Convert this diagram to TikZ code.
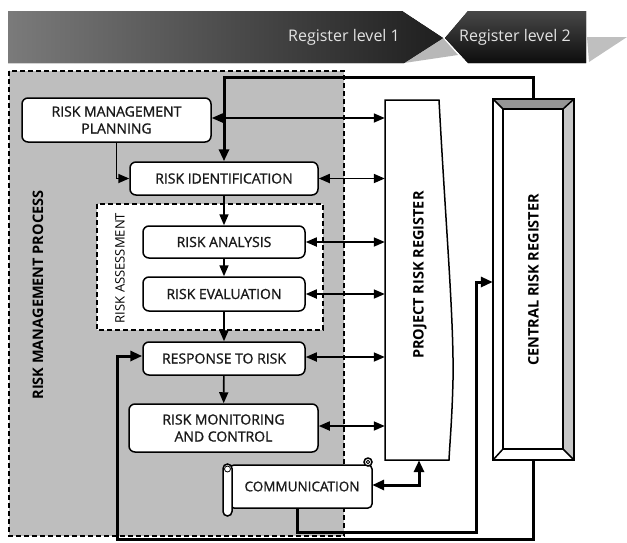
\documentclass[tikz,border=0pt]{standalone}
\usepackage{fontspec}
\setmainfont{Open Sans}
\newfontfamily\semifont[FakeBold=1.1]{Open Sans}
\usetikzlibrary{arrows.meta,calc}

\definecolor{procgray}{HTML}{BEBEBE}
\definecolor{bevtop}{HTML}{959595}
\definecolor{bevside}{HTML}{C6C6C6}
\definecolor{bannertxt}{HTML}{E2E2E2}

\begin{document}
\begin{tikzpicture}[x=1pt,y=-1pt,
  box/.style={draw, line width=1.5pt, rounded corners=6pt, fill=white, inner sep=0pt,
    align=center, text=black!90, font=\semifont\fontsize{14}{17}\selectfont},
  flow/.style={line width=1.7pt, -{Triangle[length=11pt,width=9pt]}},
  link/.style={line width=1.7pt, {Triangle[length=11pt,width=9pt]}-{Triangle[length=11pt,width=9pt]}},
  heavy/.style={line width=3pt, -{Triangle[length=12pt,width=10pt]}},
  heavylink/.style={line width=3pt, {Triangle[length=12pt,width=10pt]}-{Triangle[length=12pt,width=10pt]}},
  outline/.style={line width=1.5pt},
  dashbox/.style={line width=1.3pt, dash pattern=on 5pt off 3pt},
  vlabel/.style={rotate=90, font=\bfseries\fontsize{14.5}{16}\selectfont},
  bannerlabel/.style={text=bannertxt, font=\fontsize{16}{19}\selectfont}
]
\useasboundingbox (0,0) rectangle (627,542);

% --- register level banners ---
\fill[black!28] (404,63) -- (443,38) -- (458,55) -- cycle;
\fill[left color=black!52, right color=black!88] (8,11) -- (402,11) -- (443,38) -- (404,63) -- (8,63) -- cycle;
\fill[top color=black!72, bottom color=black!95] (468,11) -- (586,11) -- (586,63) -- (468,63) -- (445,38) -- cycle;
\fill[black!25] (587,37) -- (627,37) -- (589,62) -- cycle;
\node[bannerlabel] (lev1) at (344,37) {Register level 1};
\node[bannerlabel] (lev2) at (515,37) {Register level 2};

% --- risk management process area ---
\fill[procgray] (9,71) rectangle (344,536);
\draw[dashbox] (9,71) rectangle (344,536);
\node[vlabel] (rmproc) at (38,295) {RISK MANAGEMENT PROCESS};

% risk assessment group
\draw[dashbox, fill=white] (97,204) rectangle (323,330);
\node[rotate=90, font=\fontsize{13}{15}\selectfont] (rassess) at (120,268) {RISK ASSESSMENT};

% --- process steps ---
\node[box, minimum width=189pt, minimum height=44pt] (rmp) at (116.5,120) {RISK MANAGEMENT\\PLANNING};
\node[box, minimum width=188pt, minimum height=33pt] (ri) at (224,178.5) {RISK IDENTIFICATION};
\node[box, minimum width=162pt, minimum height=32pt] (ra) at (224,242) {RISK ANALYSIS};
\node[box, minimum width=162pt, minimum height=34pt] (re) at (224,294) {RISK EVALUATION};
\node[box, minimum width=162pt, minimum height=33pt] (rr) at (224,358.5) {RESPONSE TO RISK};
\node[box, minimum width=189pt, minimum height=48pt] (rmc) at (223.5,428) {RISK MONITORING\\AND CONTROL};

% --- communication scroll ---
\draw[outline, fill=white, rounded corners=4pt] (230,465) -- (372,465) -- (372,508) -- (230,508) -- cycle;
\draw[outline, fill=white] (368,462) circle (4pt);
\draw[line width=0.8pt] (368,462) circle (1.8pt);
\draw[outline, fill=white, rounded corners=4.5pt] (223,464) rectangle (232,516);
\draw[line width=0.8pt] (227.5,469) circle (3pt);
\node[font=\semifont\fontsize{13.5}{15}\selectfont, text=black!90, minimum width=140pt, minimum height=43pt, inner sep=0pt] (comm) at (302,486.5) {COMMUNICATION};

% --- project risk register ---
\draw[outline, fill=white] (385,100) -- (439,100)
  .. controls (446,230) and (454,320) .. (453,380)
  .. controls (452,420) and (450,440) .. (449,460) -- (385,460) -- cycle;
\node[minimum width=68pt, minimum height=360pt, inner sep=0pt] (preg) at (419,280) {};
\node[vlabel] (preglabel) at (420,275) {PROJECT RISK REGISTER};

% --- central risk register (bevelled frame) ---
\fill[white] (493,99) rectangle (574,460);
\fill[bevtop] (493,99) -- (574,99) -- (563,109) -- (503,109) -- cycle;
\fill[bevside] (574,99) -- (574,460) -- (563,449) -- (563,109) -- cycle;
\draw[outline] (493,99) rectangle (574,460);
\draw[outline] (503,109) rectangle (563,449);
\draw[outline] (493,99) -- (503,109) (574,99) -- (563,109)
  (493,460) -- (503,449) (574,460) -- (563,449);
\node[minimum width=81pt, minimum height=361pt, inner sep=0pt] (creg) at (533.5,279.5) {};
\node[vlabel] (creglabel) at (533.5,280) {CENTRAL RISK REGISTER};

% --- process flow ---
\draw[flow] (rmp.south) |- (ri.west);
\draw[flow] (ri) -- (ra);
\draw[flow] (ra) -- (re);
\draw[flow] (re) -- (rr);
\draw[flow] (rr) -- (rmc);

% --- exchange with the project register ---
\draw[link] (rmp.east |- 0,118) -- (preg.west |- 0,118);
\draw[link] (ri.east) -- (ri.east -| preg.west);
\draw[link] (ra.east) -- (ra.east -| preg.west);
\draw[link] (re.east) -- (re.east -| preg.west);
\draw[link] (rr.east |- 0,357) -- (preg.west |- 0,357);
\draw[link] (rmc.east |- 0,426) -- (preg.west |- 0,426);
\draw[heavylink] (comm.east |- 0,485) -| (preg.south);

% --- links with the central register ---
\draw[heavy] (creg.north) -- ++(0,-21) -| (ri.north);
\draw[heavy] (comm.south -| 297,0) |- (476,532) |- (creg.west |- 0,282);
\draw[heavy] (creg.south) |- (117,539) |- (rr.west |- 0,356);
\end{tikzpicture}
\end{document}
